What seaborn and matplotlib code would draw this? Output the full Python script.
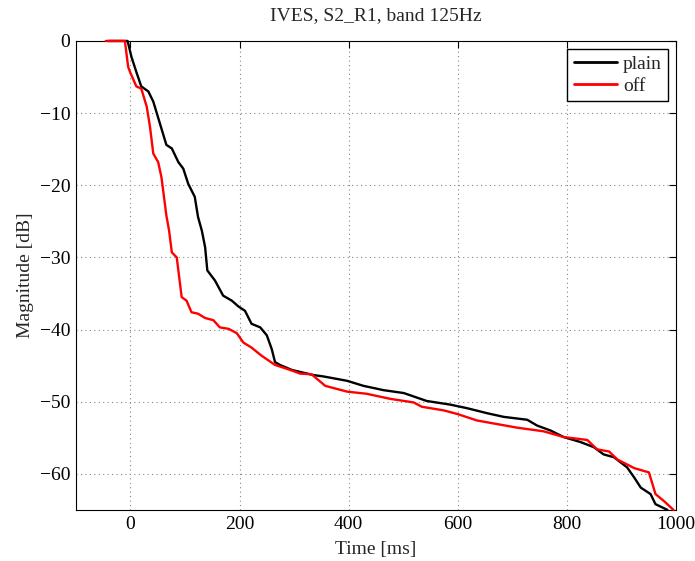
import pandas as pd
import seaborn as sns
from matplotlib import pyplot as plt

# energy decay curves
plain_t = [-40, -5, 2, 11, 20, 33, 42, 54, 66, 76, 88, 97, 106, 118, 124, 131, 137, 141,
           155, 170, 186, 198, 210, 222, 238, 250, 259, 265, 274, 296, 335, 354, 397, 427,
           464, 501, 543, 586, 617, 654, 684, 727, 745, 770, 794, 825, 849, 867, 886, 910,
           923, 935, 953, 962, 984]
plain_db = [0, 0, -2.2, -4.3, -6.3, -7.0, -8.4, -11.4, -14.4, -14.9, -16.8, -17.7, -19.8,
            -21.6, -24.4, -26.3, -28.6, -31.8, -33.2, -35.3, -36.0, -36.8, -37.4, -39.2,
            -39.7, -40.8, -42.7, -44.5, -44.9, -45.6, -46.3, -46.5, -47.1, -47.8, -48.4,
            -48.8, -49.9, -50.4, -50.9, -51.6, -52.1, -52.5, -53.3, -54.0, -54.9, -55.6,
            -56.3, -57.3, -57.7, -59.1, -60.5, -61.9, -62.8, -64.2, -65.0]

off_t = [-45, -10, -4, 0, 11, 20, 30, 36, 42, 51, 57, 66, 71, 76, 85, 94, 103, 112, 124,
         137, 152, 164, 180, 195, 207, 222, 240, 265, 293, 311, 332, 357, 397, 433, 476,
         519, 534, 574, 599, 635, 672, 709, 757, 794, 837, 855, 877, 892, 923, 950, 962,
         978, 995]
off_db = [0, 0, -3.6, -4.4, -6.3, -6.6, -9.1, -11.9, -15.6, -16.8, -18.9, -24.2, -26.3,
          -29.3, -30.0, -35.5, -36.0, -37.6, -37.8, -38.4, -38.7, -39.7, -39.9, -40.5,
          -41.8, -42.5, -43.6, -44.9, -45.6, -46.1, -46.2, -47.8, -48.6, -48.9, -49.6,
          -50.1, -50.7, -51.2, -51.7, -52.6, -53.1, -53.6, -54.1, -54.9, -55.3, -56.6,
          -56.9, -58.0, -59.2, -59.8, -62.8, -63.8, -65.0]

df = pd.concat([
    pd.DataFrame({'t': plain_t, 'db': plain_db, 'cond': 'plain'}),
    pd.DataFrame({'t': off_t, 'db': off_db, 'cond': 'off'}),
], ignore_index=True)

sns.set_style('white')
plt.rcParams['font.family'] = ['Liberation Serif', 'DejaVu Serif']
plt.rcParams['axes.unicode_minus'] = True

fig = plt.figure(figsize=(6.95, 5.61), dpi=100)
ax = fig.add_axes([0.109, 0.091, 0.864, 0.836])

sns.lineplot(data=df, x='t', y='db', hue='cond', palette={'plain': 'black', 'off': 'red'},
             sort=False, estimator=None, linewidth=1.7, ax=ax)
for ln in ax.get_lines():
    ln.set_clip_on(False)
    ln.set_zorder(3)

ax.set_xlim(-100, 1000)
ax.set_ylim(-65, 0)
ax.set_xticks([0, 200, 400, 600, 800, 1000])
ax.set_yticks([0, -10, -20, -30, -40, -50, -60])
ax.grid(True, linestyle=(0, (1, 3)), color='#888888', linewidth=0.8)
ax.tick_params(direction='in', length=5, labelsize=14, colors='black', top=True, right=True,
               pad=4)
for s in ax.spines.values():
    s.set_color('black')
    s.set_linewidth(0.8)

ax.set_xlabel('Time [ms]', fontsize=14, labelpad=6)
ax.set_ylabel('Magnitude [dB]', fontsize=14, labelpad=4)
ax.set_title('IVES, S2_R1, band 125Hz', fontsize=14, pad=15)

leg = ax.legend(loc='upper right', fontsize=14, frameon=True, fancybox=False,
                handlelength=2.2, handletextpad=0.3, borderpad=0.35, labelspacing=0.2,
                borderaxespad=0.4)
leg.get_frame().set_edgecolor('black')
leg.get_frame().set_linewidth(1.0)
leg.get_frame().set_alpha(1)
for h in leg.get_lines():
    h.set_linewidth(2)

fig.savefig('out.png', dpi=100)
